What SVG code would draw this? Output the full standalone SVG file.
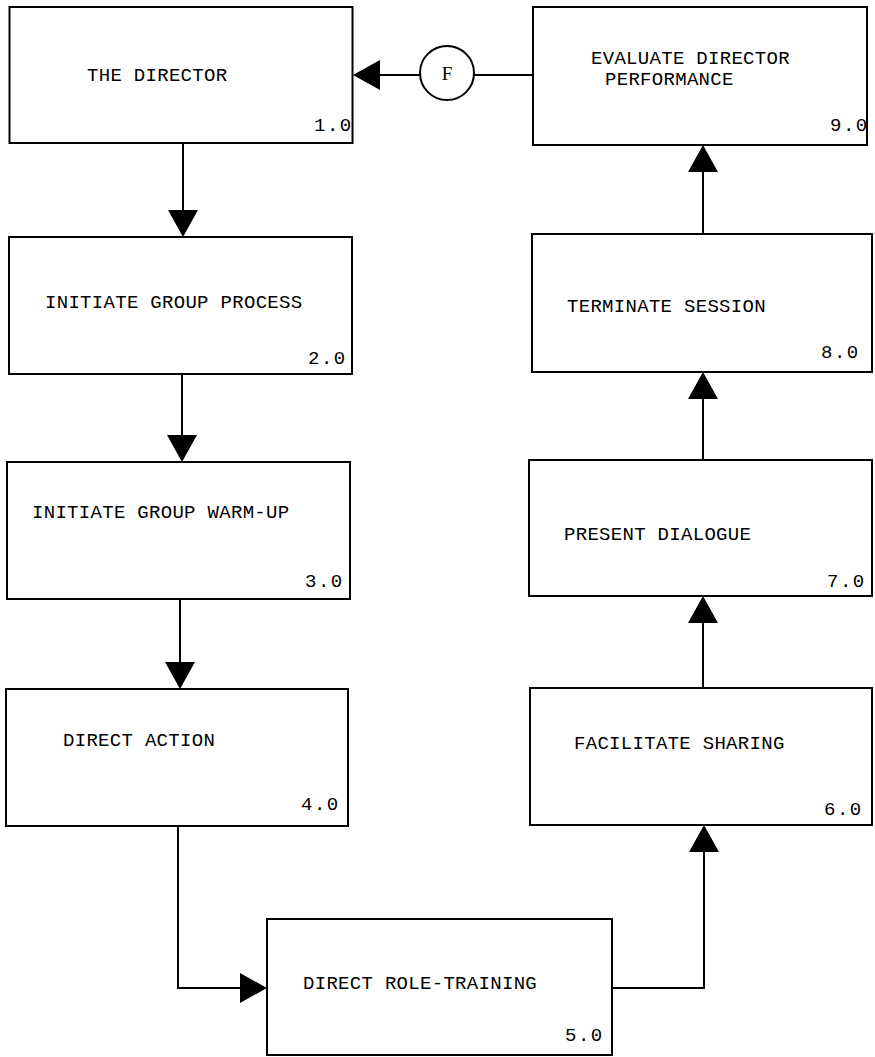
<svg xmlns="http://www.w3.org/2000/svg" width="875" height="1057" viewBox="0 0 875 1057">
<style>
.box{fill:#fff;stroke:#000;stroke-width:2}
.lbl{font-family:"Liberation Mono","DejaVu Sans Mono",monospace;font-size:19px;letter-spacing:0.3px;fill:#000}
.num{font-family:"Liberation Mono","DejaVu Sans Mono",monospace;font-size:19px;letter-spacing:1.5px;fill:#000}
.con{fill:none;stroke:#000;stroke-width:2}
</style>
<defs>
<marker id="arr" viewBox="0 0 27 30" refX="17" refY="15" markerWidth="27" markerHeight="30" markerUnits="userSpaceOnUse" orient="auto">
<path d="M0,0 L27,15 L0,30 Z" fill="#000"/>
</marker>
</defs>
<rect width="875" height="1057" fill="#fff"/>
<g id="connectors">
<line class="con" x1="183" y1="143" x2="183" y2="227" marker-end="url(#arr)"/>
<line class="con" x1="182" y1="374" x2="182" y2="452" marker-end="url(#arr)"/>
<line class="con" x1="180" y1="599" x2="180" y2="679" marker-end="url(#arr)"/>
<path class="con" d="M178,826 V988 H257" marker-end="url(#arr)"/>
<path class="con" d="M612,988 H704 V835" marker-end="url(#arr)"/>
<line class="con" x1="703" y1="688" x2="703" y2="606" marker-end="url(#arr)"/>
<line class="con" x1="703" y1="460" x2="703" y2="382" marker-end="url(#arr)"/>
<line class="con" x1="703" y1="234" x2="703" y2="155" marker-end="url(#arr)"/>
<line class="con" x1="533" y1="75" x2="474" y2="75"/>
<line class="con" x1="420" y1="75" x2="363" y2="75" marker-end="url(#arr)"/>
</g>
<g id="node1">
<rect class="box" x="9.5" y="7" width="343" height="136"/>
<text class="lbl" x="87" y="81">THE DIRECTOR</text>
<text class="num" x="314" y="131">1.0</text>
</g>
<g id="node2">
<rect class="box" x="9" y="237" width="343" height="137"/>
<text class="lbl" x="45" y="308">INITIATE GROUP PROCESS</text>
<text class="num" x="308" y="364">2.0</text>
</g>
<g id="node3">
<rect class="box" x="7" y="462" width="343" height="137"/>
<text class="lbl" x="32" y="518">INITIATE GROUP WARM-UP</text>
<text class="num" x="305" y="587">3.0</text>
</g>
<g id="node4">
<rect class="box" x="6" y="689" width="342" height="137"/>
<text class="lbl" x="63" y="746">DIRECT ACTION</text>
<text class="num" x="301" y="810">4.0</text>
</g>
<g id="node5">
<rect class="box" x="267" y="919" width="345" height="136"/>
<text class="lbl" x="303" y="989">DIRECT ROLE-TRAINING</text>
<text class="num" x="565" y="1041">5.0</text>
</g>
<g id="node6">
<rect class="box" x="530" y="688" width="342" height="137"/>
<text class="lbl" x="574" y="749">FACILITATE SHARING</text>
<text class="num" x="824" y="815">6.0</text>
</g>
<g id="node7">
<rect class="box" x="529" y="460" width="343" height="136"/>
<text class="lbl" x="564" y="540">PRESENT DIALOGUE</text>
<text class="num" x="827" y="587">7.0</text>
</g>
<g id="node8">
<rect class="box" x="532" y="234" width="340" height="138"/>
<text class="lbl" x="567" y="312">TERMINATE SESSION</text>
<text class="num" x="821" y="358">8.0</text>
</g>
<g id="node9">
<rect class="box" x="533" y="7" width="334" height="138"/>
<text class="lbl" x="591" y="64">EVALUATE DIRECTOR</text>
<text class="lbl" x="605" y="85">PERFORMANCE</text>
<text class="num" x="830" y="131">9.0</text>
</g>
<g id="nodeF">
<circle cx="447" cy="73" r="27" fill="#fff" stroke="#000" stroke-width="2"/>
<text x="447" y="80" text-anchor="middle" font-family="Liberation Serif, serif" font-size="19">F</text>
</g>
</svg>
